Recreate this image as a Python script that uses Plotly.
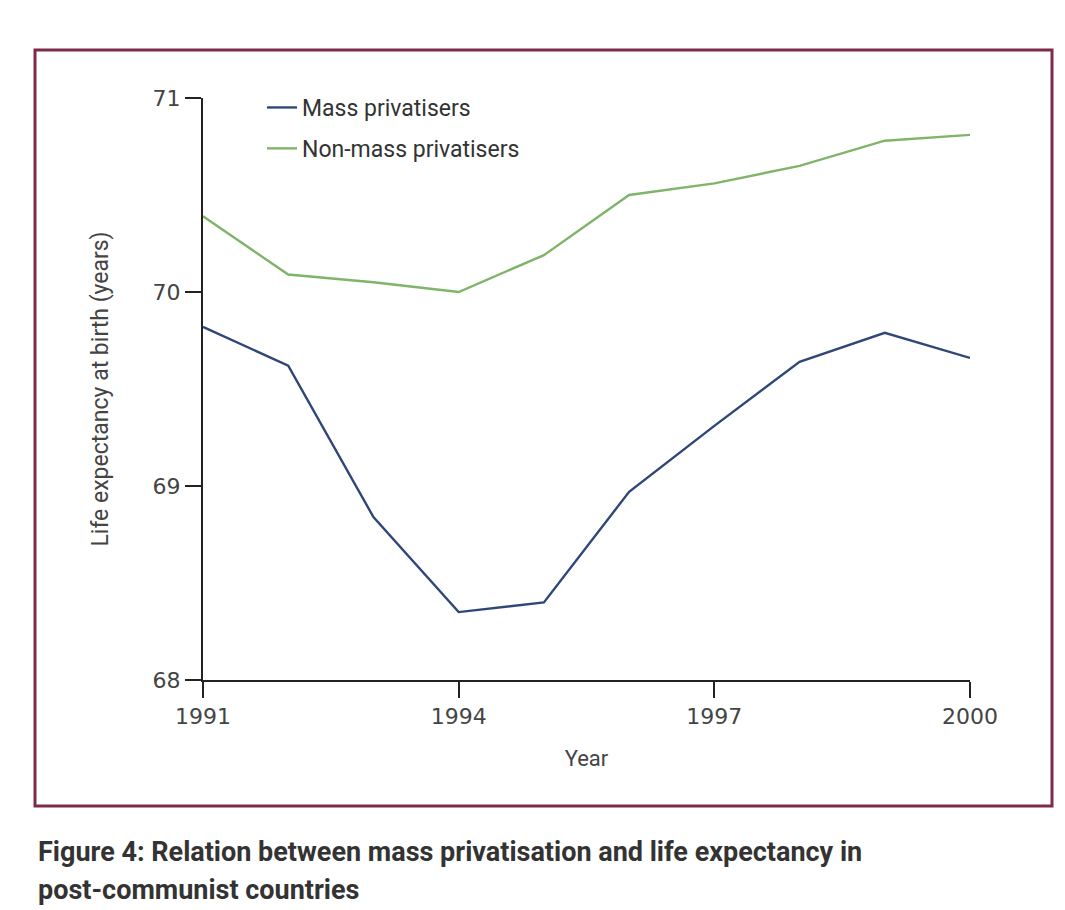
import plotly.graph_objects as go

years = [1991, 1992, 1993, 1994, 1995, 1996, 1997, 1998, 1999, 2000]
mass_privatisers = [69.82, 69.62, 68.84, 68.35, 68.40, 68.97, 69.31, 69.64, 69.79, 69.66]
non_mass_privatisers = [70.39, 70.09, 70.05, 70.00, 70.19, 70.50, 70.56, 70.65, 70.78, 70.81]
x_ticks = [1991, 1994, 1997, 2000]
y_ticks = [68, 69, 70, 71]

# the page body adds an 8px offset, so work in figure coordinates = screen - 8
OFF = 8
W, H = 1065 - OFF, 910 - OFF
L, R, T, B = 203 - OFF, 970 - OFF, 98 - OFF, 680 - OFF

FONT = "Roboto, Liberation Sans, DejaVu Sans"

fig = go.Figure()
fig.add_trace(go.Scatter(x=years, y=mass_privatisers, mode="lines", name="Mass privatisers",
                         line=dict(color="#2f4778", width=2.4), legendgroup="a"))
fig.add_trace(go.Scatter(x=years, y=non_mass_privatisers, mode="lines", name="Non-mass privatisers",
                         line=dict(color="#7fb46a", width=2.4), legendgroup="b"))

def px2paper_x(px):
    return (px - OFF - L) / (R - L)

def px2paper_y(py):
    return (B - (py - OFF)) / (B - T)

shapes = [
    dict(type="rect", xref="paper", yref="paper",
         x0=px2paper_x(35), x1=px2paper_x(1052), y0=px2paper_y(806), y1=px2paper_y(50),
         line=dict(color="#7e2a4c", width=3), fillcolor="rgba(0,0,0,0)", layer="below"),
]

annotations = [
    dict(text="<b>Figure 4: Relation between mass privatisation and life expectancy in</b>",
         xref="paper", yref="paper", x=px2paper_x(36), y=px2paper_y(852),
         xanchor="left", yanchor="middle", showarrow=False,
         font=dict(family=FONT, size=27, color="#333333")),
    dict(text="<b>post-communist countries</b>",
         xref="paper", yref="paper", x=px2paper_x(36), y=px2paper_y(890),
         xanchor="left", yanchor="middle", showarrow=False,
         font=dict(family=FONT, size=27, color="#333333")),
]

fig.update_layout(
    width=W, height=H,
    margin=dict(l=L, r=W - R, t=T, b=H - B, autoexpand=False),
    paper_bgcolor="white", plot_bgcolor="white",
    shapes=shapes, annotations=annotations,
    showlegend=True,
    legend=dict(x=px2paper_x(262), y=px2paper_y(86), xanchor="left", yanchor="top",
                bgcolor="rgba(0,0,0,0)", tracegroupgap=8, traceorder="grouped",
                font=dict(family=FONT, size=23, color="#333333")),
    xaxis=dict(range=[1991, 2000], tickvals=x_ticks, ticktext=[str(v) for v in x_ticks],
               showgrid=False, zeroline=False, showline=True, linecolor="#222222", linewidth=2,
               ticks="outside", ticklen=16, tickwidth=2, tickcolor="#222222",
               tickfont=dict(family="DejaVu Sans", size=22, color="#444444"),
               title=dict(text="Year", standoff=22,
                          font=dict(family=FONT, size=22, color="#444444"))),
    yaxis=dict(range=[68, 71], tickvals=y_ticks, ticktext=["68", "69", "70", "71"],
               showgrid=False, zeroline=False, showline=True, linecolor="#222222", linewidth=2,
               ticks="outside", ticklen=16, tickwidth=2, tickcolor="#222222",
               tickfont=dict(family="DejaVu Sans", size=22, color="#444444"),
               title=dict(text="Life expectancy at birth (years)", standoff=38,
                          font=dict(family=FONT, size=23, color="#444444"))),
)

fig.write_html("out.html")
